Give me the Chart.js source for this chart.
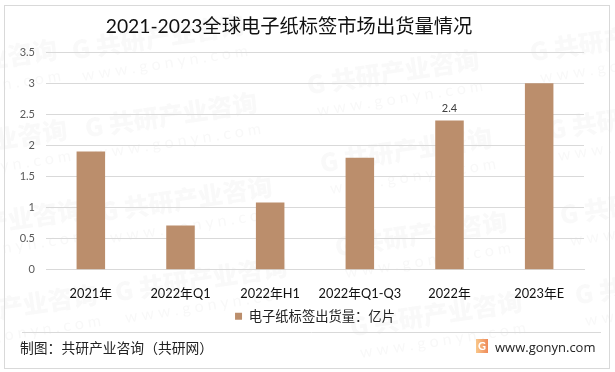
<!DOCTYPE html>
<html><head><meta charset="utf-8">
<style>html,body{margin:0;padding:0;background:#fff}#w{position:relative;width:615px;height:372px}canvas{display:block}</style>
<script src="https://cdn.jsdelivr.net/npm/chart.js@4"></script></head>
<body><div id="w"><canvas id="c" width="615" height="372"></canvas></div>
<script>
const categories=['2021年','2022年Q1','2022年H1','2022年Q1-Q3','2022年','2023年E'];
const shipments=[1.9,0.71,1.08,1.8,2.4,3.0];
const seriesName='电子纸标签出货量：亿片';
const titleText='2021-2023全球电子纸标签市场出货量情况';
const labelledIndex=4;
const F='Lato,"Noto Sans CJK SC",sans-serif';
const wm=[[-115,75],[-105,155],[-90,235],[-75,320],[72,50],[85,128],[100,212],[115,292],[307,85],[320,163],[335,247],[350,327],[530,52],[548,130],[560,215],[575,295]];
const deco={id:'deco',
 beforeDraw(ch){const x=ch.ctx;x.save();
  x.fillStyle='#fff';x.fillRect(0,0,615,372);
  for(const [a,b] of wm){x.save();x.translate(a,b);x.rotate(-0.15);
   x.fillStyle='rgba(120,120,120,0.045)';x.textBaseline='middle';x.textAlign='left';
   x.font='900 25px "Noto Sans CJK SC"';x.fillText('G 共研产业咨询',0,0);
   x.font='16px Lato';x.fillStyle='rgba(120,120,120,0.05)';
   x.fillText('w w w . g o n y n . c o m',6,27);x.restore();}
  x.restore();},
 afterDraw(ch){const x=ch.ctx;x.save();
  x.strokeStyle='#d9d9d9';x.lineWidth=1;
  x.strokeRect(4.5,5.5,605,363);
  x.beginPath();x.moveTo(22,332.5);x.lineTo(601,332.5);x.stroke();
  x.fillStyle='#222';x.textBaseline='middle';x.textAlign='left';
  x.font='13.8px "Noto Sans CJK SC"';x.fillText('制图：共研产业咨询（共研网）',20,348);
  x.font='13px "Open Sans"';x.fillText('www.gonyn.com',495,348);
  const g=x.createLinearGradient(476,0,488,0);g.addColorStop(0,'#f9c78a');g.addColorStop(1,'#ef8a5a');
  x.fillStyle=g;x.fillRect(476,339,12,14);
  x.fillStyle='#fff';x.font='bold 11px Lato';x.textAlign='center';x.fillText('G',482,346.5);
  const m=ch.getDatasetMeta(0).data[labelledIndex];
  x.fillStyle='#404040';x.font='11px Lato';x.textAlign='center';x.textBaseline='alphabetic';
  x.fillText(shipments[labelledIndex].toFixed(1),m.x,m.y-9);
  x.restore();}
};
new Chart(document.getElementById('c'),{type:'bar',plugins:[deco],
 data:{labels:categories,datasets:[{label:seriesName,data:shipments,backgroundColor:'#BB8E6C',borderWidth:0,barPercentage:1,categoryPercentage:0.318}]},
 options:{responsive:false,animation:false,devicePixelRatio:1,
  layout:{padding:{left:-6,right:31,top:0,bottom:39}},
  scales:{
   x:{grid:{display:false,drawTicks:false},border:{color:'#d9d9d9'},
      ticks:{color:'#111',font:{family:F,size:12.8},padding:16,maxRotation:0,autoSkip:false},
      afterFit(s){s.height=30;}},
   y:{min:0,max:3.5,grid:{color:'#d9d9d9',drawTicks:false},border:{display:false},
      ticks:{stepSize:0.5,color:'#595959',font:{family:F,size:11},padding:11,callback:v=>String(v)},
      afterFit(s){s.width=52;}}
  },
  plugins:{
   title:{display:true,text:titleText,color:'#111',font:{family:F,size:19.3,weight:'normal'},padding:{top:15,bottom:14}},
   legend:{position:'bottom',fullSize:false,labels:{boxWidth:7,boxHeight:7,color:'#222',font:{family:F,size:13.3},padding:10}},
   tooltip:{enabled:false}
  }}});
</script></body></html>
